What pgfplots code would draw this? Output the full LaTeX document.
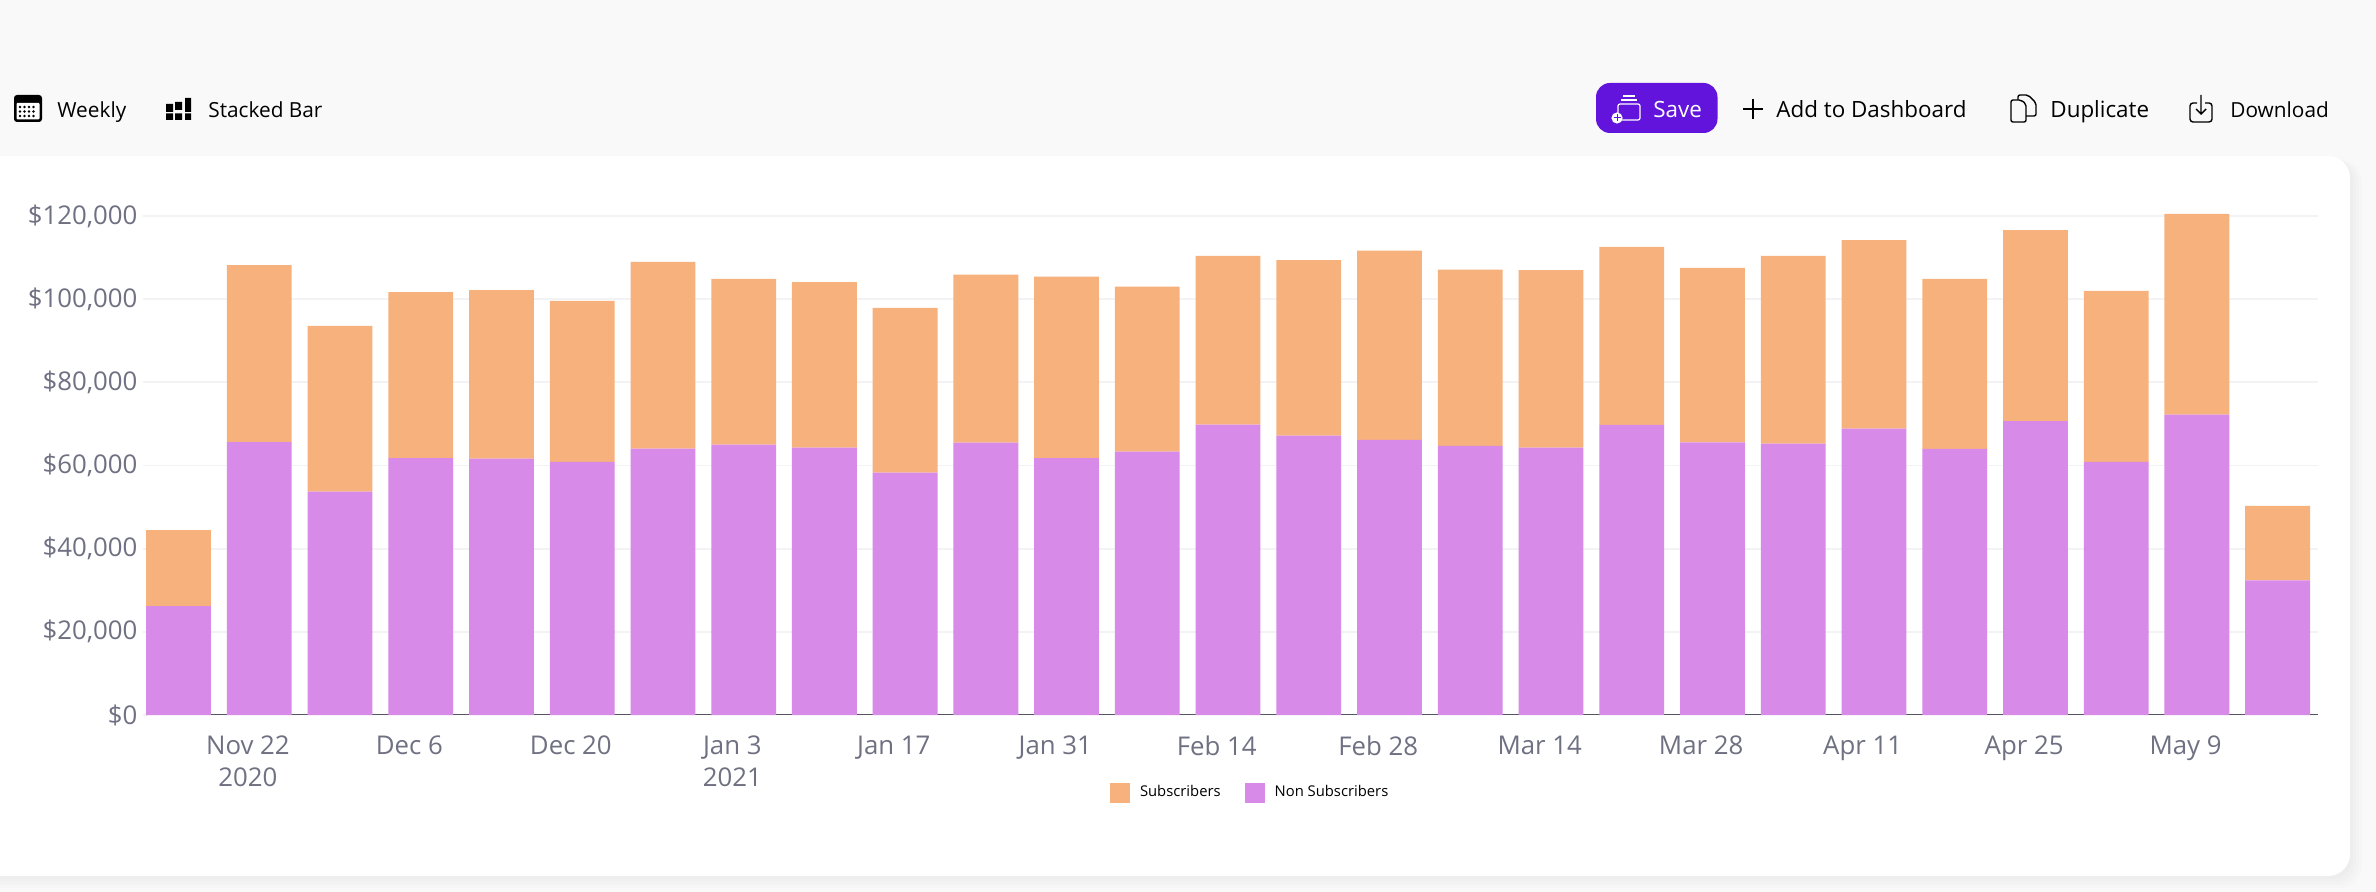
\documentclass[border=0pt]{standalone}
\usepackage{fontspec}
\setmainfont{Open Sans}
\usepackage{pgfplots}
\usepackage{pgfplotstable}
\pgfplotsset{compat=1.18}

\definecolor{pagebg}{HTML}{F9F9FA}
\definecolor{tickgrey}{HTML}{6F7182}
\definecolor{gridgrey}{HTML}{F3F3F6}
\definecolor{axisgrey}{HTML}{55555F}
\definecolor{subs}{HTML}{F7B17D}
\definecolor{nonsubs}{HTML}{D88AE9}
\definecolor{savepurple}{HTML}{6214DC}

% week, non subscribers, subscribers
\pgfplotstableread{
x  non   sub
0  26200 18250
1  65650 42550
2  53700 39900
3  61800 39900
4  61640 40560
5  60850 38720
6  64050 44900
7  65000 39900
8  64290 39810
9  58270 39630
10 65490 40410
11 61800 43600
12 63330 39670
13 69820 40580
14 67170 42230
15 66140 45560
16 64700 42400
17 64290 42710
18 69750 42850
19 65580 41920
20 65250 45150
21 68860 45340
22 63970 40930
23 70700 45900
24 60850 41150
25 72220 48280
26 32400 17870
}\weekly

\newcommand{\uifont}{\fontsize{11.2}{13}\selectfont}
\newcommand{\uifontsmall}{\fontsize{10.4}{13}\selectfont}

\begin{document}
\begin{tikzpicture}
\begin{scope}[x=0.5pt,y=-0.5pt]
  \path[use as bounding box] (0,0) rectangle (2376,892);
  \fill[pagebg] (0,0) rectangle (2376,892);
  % card with soft shadow
  \foreach \g in {12,9,6,3}
    \fill[black,opacity=0.012,rounded corners=11pt] (-40,160) rectangle (2350+\g,876+\g);
  \fill[white,rounded corners=11pt] (-40,156) rectangle (2350,876);

  % left toolbar
  \fill[black,rounded corners=1.5pt] (14,95) rectangle (42,122);
  \fill[white,rounded corners=0.5pt] (16.5,103) rectangle (39.5,119.5);
  \foreach \cx in {20,24.5,29,33.5}
    \foreach \cy in {107,111.5,116}
      \fill[black] (\cx,\cy) circle (0.65pt);
  \node[anchor=base west,inner sep=0pt,font=\uifontsmall] at (57,118) {Weekly};
  \fill[black] (166,104) rectangle (173,112) (166,113.5) rectangle (173,120)
               (175,102) rectangle (182,110) (175,113.5) rectangle (182,120)
               (185,98) rectangle (191,112) (185,113.5) rectangle (191,120);
  \node[anchor=base west,inner sep=0pt,font=\uifontsmall] at (208,118) {Stacked Bar};

  % right toolbar
  \fill[savepurple,rounded corners=7pt] (1596,83) rectangle (1717.5,133);
  \draw[white,line width=0.6pt,rounded corners=1pt] (1618,104) rectangle (1640,120);
  \draw[white,line width=0.6pt] (1621,100) -- (1637,100);
  \draw[white,line width=0.6pt] (1623,96) -- (1635,96);
  \fill[white] (1617,118) circle (2.8pt);
  \draw[savepurple,line width=0.5pt] (1613.5,118) -- (1620.5,118) (1617,114.5) -- (1617,121.5);
  \node[anchor=base west,inner sep=0pt,text=white,font=\uifont] at (1653,118) {Save};
  \draw[black,line width=1.1pt] (1743,109) -- (1763,109) (1753,99) -- (1753,119);
  \node[anchor=base west,inner sep=0pt,font=\uifont] at (1776,118) {Add to Dashboard};
  \draw[black,line width=0.7pt,rounded corners=1pt] (2011,100) -- (2011,122) -- (2026,122) -- (2026,104) -- (2021,100) -- cycle;
  \draw[black,line width=0.7pt,rounded corners=1pt] (2018,100) -- (2018,95) -- (2028,95) -- (2036,103) -- (2036,116) -- (2026,116);
  \node[anchor=base west,inner sep=0pt,font=\uifont] at (2050,118) {Duplicate};
  \draw[black,line width=0.7pt,rounded corners=1.5pt] (2197,103) -- (2190,103) -- (2190,122) -- (2212,122) -- (2212,103) -- (2205,103);
  \draw[black,line width=0.7pt] (2201,95) -- (2201,114) (2196,109) -- (2201,114) -- (2206,109);
  \node[anchor=base west,inner sep=0pt,font=\uifontsmall] at (2230,118) {Download};

  % baseline sits under the bars, only the gaps show it
  \draw[axisgrey,line width=0.7pt] (146,714.6) -- (2318,714.6);
\end{scope}

\begin{axis}[
  at={(73pt,-357.5pt)}, anchor=south west,
  scale only axis, width=1086pt, height=259.9pt,
  ybar stacked, bar width=32.4pt,
  xmin=-0.4026, xmax=26.5, ymin=0, ymax=125000,
  axis x line=bottom, axis y line=left,
  x axis line style={draw=none},
  y axis line style={draw=none},
  clip=false, scaled y ticks=false,
  grid=major, xmajorgrids=false,
  grid style={draw=gridgrey,line width=0.9pt},
  ytick={20000,40000,60000,80000,100000,120000},
  yticklabels={{\$20,000},{\$40,000},{\$60,000},{\$80,000},{\$100,000},{\$120,000}},
  extra y ticks={0}, extra y tick labels={\$0},
  extra y tick style={tick style={draw=axisgrey,line width=0.6pt},grid=none},
  xtick={0.86,2.86,...,24.86},
  xticklabels={{Nov 22\\2020},{Dec 6},{Dec 20},{Jan 3\\2021},{Jan 17},{Jan 31},{Feb 14},{Feb 28},{Mar 14},{Mar 28},{Apr 11},{Apr 25},{May 9}},
  major tick length=2.5pt,
  xtick style={draw=none},
  ytick style={draw=gridgrey,line width=0.9pt},
  tick label style={text=tickgrey,font=\fontsize{12.9}{16}\selectfont},
  xticklabel style={align=center,anchor=north,yshift=-5.8pt},
  yticklabel style={anchor=east,xshift=0.5pt},
  legend columns=2, reverse legend,
  legend style={at={(481.8pt,-38.8pt)},anchor=west,draw=none,fill=none,
    inner sep=0pt,font=\fontsize{7.4}{9}\selectfont,
    /tikz/every even column/.append style={column sep=10pt},
    /tikz/every odd column/.append style={column sep=3pt}},
  legend image code/.code={\fill[#1] (0pt,-5pt) rectangle (10pt,5pt);},
]
  \addplot[fill=nonsubs,draw=none] table[x=x,y=non] {\weekly};
  \addlegendentry{Non Subscribers}
  \addplot[fill=subs,draw=none] table[x=x,y=sub] {\weekly};
  \addlegendentry{Subscribers}
\end{axis}
\end{tikzpicture}
\end{document}
